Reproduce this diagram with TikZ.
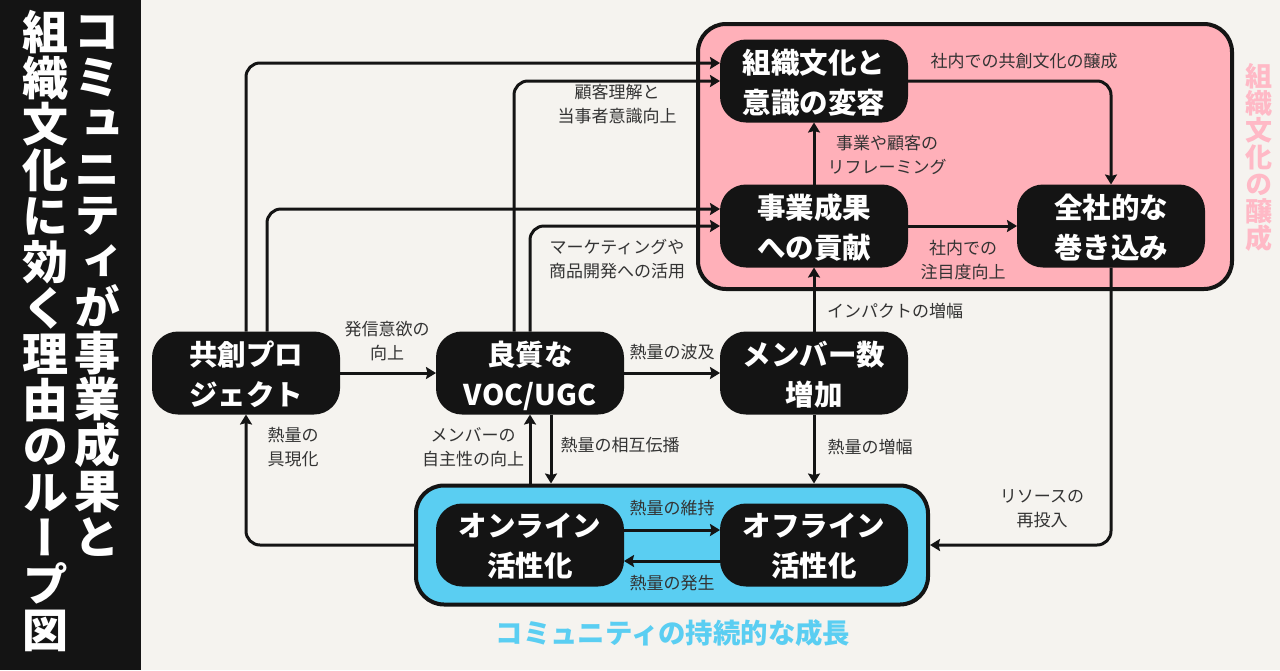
\documentclass[tikz,border=0pt]{standalone}
\usepackage{fontspec}
\setmainfont{Noto Sans CJK JP}
\newfontfamily\tatefont[RawFeature=+vert]{Noto Sans CJK JP}
\usetikzlibrary{arrows.meta}
\definecolor{paper}{HTML}{F5F3EF}
\definecolor{ink}{HTML}{141414}
\definecolor{lblgray}{HTML}{333333}
\definecolor{culturepink}{HTML}{FFB0B9}
\definecolor{commblue}{HTML}{5ACEF2}
\definecolor{pinktext}{HTML}{FFB9C6}
\begin{document}
\begin{tikzpicture}[x=1pt,y=-1pt,->,>={Stealth[length=10pt,width=12pt,inset=1.5pt]},line width=3pt,color=ink,node distance=284pt,
    main node/.style={fill=ink,text=white,rounded corners=26pt,minimum width=188pt,minimum height=83pt,align=center,inner sep=0pt,outer sep=0pt,text depth=-2pt,font=\bfseries\fontsize{28.5}{40}\selectfont},
    group node/.style={draw=ink,line width=4pt,rounded corners=28pt,inner sep=0pt},
    lbl/.style={text=lblgray,align=center,inner sep=0pt,font=\fontsize{17}{24}\selectfont},
    tate/.style={align=center,inner sep=0pt,font=\tatefont\bfseries\fontsize{#1}{#1}\selectfont}]
                \fill[paper] (0,0) rectangle (1280,670);
                \fill[ink] (0,0) rectangle (141,670);

                \node[tate=46,text=white] (title1) at (97,286) {コ\\ミ\\ュ\\ニ\\テ\\ィ\\が\\事\\業\\成\\果\\と};
                \node[tate=46,text=white] (title2) at (45,331) {組\\織\\文\\化\\に\\効\\く\\理\\由\\の\\ル\\ー\\プ\\図};
                \node[tate=27,text=pinktext] (culturelbl) at (1259,157) {組\\織\\文\\化\\の\\醸\\成};
                \node[text=commblue,inner sep=0pt,font=\bfseries\fontsize{27.4}{27}\selectfont] (commlbl) at (673,633) {コミュニティの持続的な成長};

                \node[group node,fill=culturepink,minimum width=534pt,minimum height=265pt] (culture) at (965,156.5) {};
                \node[group node,fill=commblue,minimum width=512pt,minimum height=119pt] (community) at (672,545) {};

                \node[main node] (kyoso) at (246,373) {共創プロ\\ジェクト};
                \node[main node] (voc) [right of=kyoso] {良質な\\VOC/UGC};
                \node[main node] (member) [right of=voc] {メンバー数\\増加};
                \node[main node] (online) at (530,545) {オンライン\\活性化};
                \node[main node] (offline) [right of=online] {オフライン\\活性化};
                \node[main node] (jigyo) [above of=member,node distance=147pt] {事業成果\\への貢献};
                \node[main node] (bunka) [above of=jigyo,node distance=145pt] {組織文化と\\意識の変容};
                \node[main node] (zensha) [right of=jigyo,node distance=297pt] {全社的な\\巻き込み};

                \path
                    (kyoso) edge (voc)
                    (voc) edge (member)
                    (member) edge (jigyo)
                    (jigyo) edge (bunka)
                    (jigyo) edge (zensha)
                    (member) edge (member |- community.north)
                    ([yshift=15pt]online.east) edge ([yshift=15pt]offline.west)
                    ([yshift=-16pt]offline.west) edge ([yshift=-16pt]online.east)
                    (voc |- community.north) edge (voc)
                    ([xshift=21pt]voc.south) edge ([xshift=21pt]voc.south |- community.north)
                    ;
                \draw[rounded corners=14pt]
                    (kyoso.north) |- ([yshift=18pt]bunka.west);
                \draw[rounded corners=14pt]
                    ([xshift=21pt]kyoso.north) |- ([yshift=17pt]jigyo.west);
                \draw[rounded corners=14pt]
                    ([xshift=-16pt]voc.north) |- (bunka.west);
                \draw[rounded corners=14pt]
                    (voc.north) |- (jigyo.west);
                \draw[rounded corners=14pt]
                    (bunka.east) -| (zensha.north);
                \draw[rounded corners=14pt]
                    (zensha.south) |- (community.east);
                \draw[rounded corners=14pt]
                    (community.west) -| (kyoso.south);

                \node[lbl] (l1) at (1024,61) {社内での共創文化の醸成};
                \node[lbl] (l2) at (617,104) {顧客理解と\\当事者意識向上};
                \node[lbl] (l3) at (887,155) {事業や顧客の\\リフレーミング};
                \node[lbl] (l4) at (617,259) {マーケティングや\\商品開発への活用};
                \node[lbl] (l5) at (963,260) {社内での\\注目度向上};
                \node[lbl] (l6) at (895,311) {インパクトの増幅};
                \node[lbl] (l7) at (387,341) {発信意欲の\\向上};
                \node[lbl] (l8) at (672,352) {熱量の波及};
                \node[lbl] (l9) at (293,447) {熱量の\\具現化};
                \node[lbl] (l10) at (473,447) {メンバーの\\自主性の向上};
                \node[lbl] (l11) at (620,445) {熱量の相互伝播};
                \node[lbl] (l12) at (870,447) {熱量の増幅};
                \node[lbl] (l13) at (1042,509) {リソースの\\再投入};
                \node[lbl] (l14) at (672,508) {熱量の維持};
                \node[lbl] (l15) at (672,583) {熱量の発生};
            \end{tikzpicture}
\end{document}
